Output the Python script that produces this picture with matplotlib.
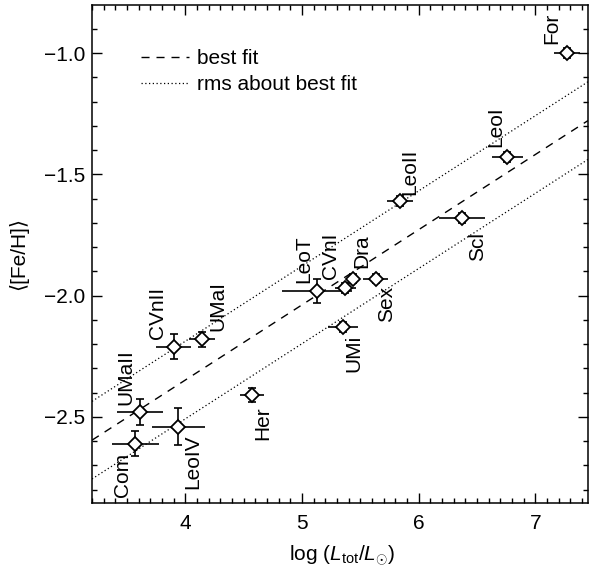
import matplotlib
matplotlib.use("Agg")
import matplotlib.pyplot as plt
from matplotlib.ticker import MultipleLocator
import numpy as np

plt.rcParams['font.family'] = ['Liberation Sans', 'DejaVu Sans']
plt.rcParams['mathtext.fontset'] = 'custom'
plt.rcParams['mathtext.rm'] = 'Liberation Sans'
plt.rcParams['mathtext.it'] = 'Liberation Sans:italic'
plt.rcParams['mathtext.bf'] = 'Liberation Sans:bold'

# ---- data ----
names = ['Com', 'UMaII', 'LeoIV', 'CVnII', 'UMaI', 'Her', 'LeoT', 'UMi',
         'CVnI', 'Dra', 'Sex', 'LeoII', 'Scl', 'LeoI', 'For']
logL = [3.57, 3.61, 3.94, 3.90, 4.14, 4.57, 5.13, 5.35,
        5.37, 5.44, 5.63, 5.84, 6.37, 6.76, 7.27]
feh = [-2.61, -2.48, -2.54, -2.21, -2.18, -2.41, -1.98, -2.13,
       -1.97, -1.93, -1.93, -1.61, -1.68, -1.43, -1.00]
logL_err = [0.20, 0.20, 0.23, 0.15, 0.11, 0.10, 0.30, 0.13,
            0.09, 0.05, 0.11, 0.11, 0.20, 0.13, 0.11]
feh_err = [0.05, 0.055, 0.075, 0.05, 0.03, 0.03, 0.05, 0.02,
           0.02, 0.02, 0.02, 0.02, 0.02, 0.02, 0.02]

fit_slope = 0.31
fit_intercept_at6 = -1.728
fit_rms = 0.16

x_ticks = [4, 5, 6, 7]
y_ticks = [-1.0, -1.5, -2.0, -2.5]

# ---- layout (label offsets in pixels, y up) ----
label_layout = {
    'Com': (-13, -9, 'top'), 'UMaII': (-14, 7, 'bottom'), 'LeoIV': (14, -8, 'top'),
    'CVnII': (-16, 8, 'bottom'), 'UMaI': (16, 8, 'bottom'), 'Her': (11, -11, 'top'),
    'LeoT': (-13, 8, 'bottom'), 'UMi': (11, -8, 'top'), 'CVnI': (-15, 9, 'bottom'),
    'Dra': (8, 11, 'bottom'), 'Sex': (11, -7, 'top'), 'LeoII': (10, 6, 'bottom'),
    'Scl': (16, -14, 'top'), 'LeoI': (-12, 10, 'bottom'), 'For': (-15, 9, 'bottom'),
}

W, H = 589, 567
fig = plt.figure(figsize=(W / 100, H / 100), dpi=100)
ax = fig.add_axes([92 / W, 1 - 503 / H, (588 - 92) / W, (503 - 5) / H])

FS = 15
xlim = (3.2, 7.45)
ylim = (-2.855, -0.802)

# fit lines
xx = np.array(xlim)
yfit = fit_intercept_at6 + fit_slope * (xx - 6)
ax.plot(xx, yfit, color='black', lw=1.0, linestyle=(0, (5.8, 5)), label='best fit', zorder=1)
ax.plot(xx, yfit + fit_rms, color='black', lw=0.9, linestyle=(0, (1, 2)),
        label='rms about best fit', zorder=1)
ax.plot(xx, yfit - fit_rms, color='black', lw=0.9, linestyle=(0, (1, 2)), zorder=1)

# error bars
ax.errorbar(logL, feh, xerr=logL_err, fmt='none', ecolor='black', elinewidth=1.2,
            capsize=0, zorder=2)
ax.errorbar(logL, feh, yerr=feh_err, fmt='none', ecolor='black', elinewidth=1.2,
            capsize=3, capthick=1.2, zorder=2)
ax.plot(logL, feh, linestyle='none', marker='D', markersize=7.6, markerfacecolor='white',
        markeredgecolor='black', markeredgewidth=1.3, zorder=3)

for n, x, y in zip(names, logL, feh):
    dx, dy, va = label_layout[n]
    ax.annotate(n, (x, y), xytext=(dx * 0.72, dy * 0.72), textcoords='offset points',
                rotation=90, ha='center', va=va, fontsize=FS)

ax.set_xlim(*xlim)
ax.set_ylim(*ylim)
ax.set_xticks(x_ticks)
ax.set_xticklabels([str(t) for t in x_ticks])
ax.set_yticks(y_ticks)
ax.set_yticklabels(['\u2212%.1f' % abs(t) for t in y_ticks])
ax.xaxis.set_minor_locator(MultipleLocator(0.1))
ax.yaxis.set_minor_locator(MultipleLocator(0.1))
ax.tick_params(which='both', direction='in', top=True, right=True, labelsize=FS, width=1.0)
ax.tick_params(which='major', length=7)
ax.tick_params(which='minor', length=3.6)
ax.tick_params(axis='x', pad=8)
ax.tick_params(axis='y', pad=5)
for s in ax.spines.values():
    s.set_linewidth(1.1)

fig.text(342 / W, 1 - 556 / H, r'log ($L_{\rm tot}/L_{\odot}$)', ha='center', va='center',
         fontsize=FS)
fig.text(18 / W, 1 - 254 / H, '\u27e8[Fe/H]\u27e9', rotation=90, ha='center', va='center',
         fontsize=FS)

ax.legend(loc='upper left', bbox_to_anchor=(0.099, 0.912), frameon=False, fontsize=FS,
          handlelength=2.3, handletextpad=0.4, labelspacing=0.35, borderpad=0,
          borderaxespad=0)

fig.savefig('out.png', dpi=100)
